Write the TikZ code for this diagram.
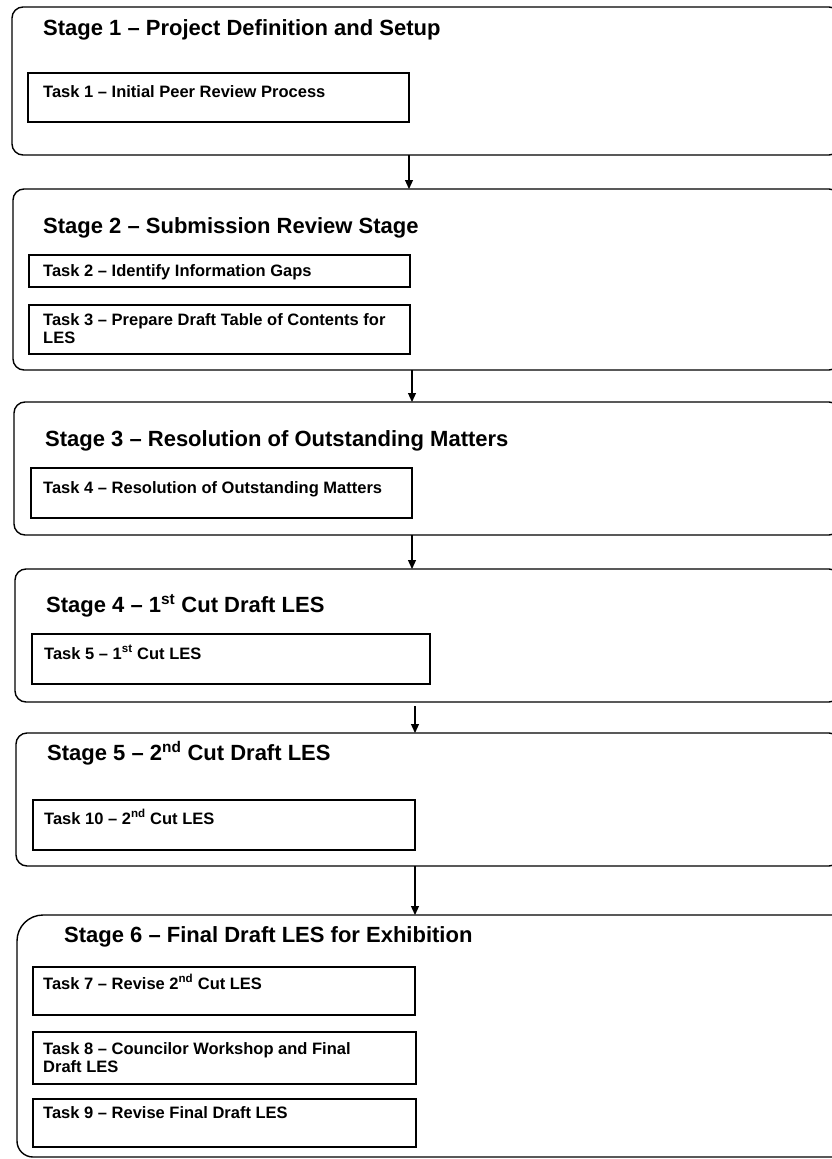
\documentclass[tikz,border=0pt]{standalone}
\usepackage{fontspec}
\setmainfont{Liberation Sans}
\usetikzlibrary{arrows.meta}
\tikzset{
  stagebox/.style={draw=black, line width=1.4pt, rounded corners=11pt, inner sep=0pt, outer sep=0pt, anchor=north west},
  stageline/.style={draw=black, line width=1.4pt},
  taskbox/.style={draw=black, line width=1.2pt, inner sep=0pt, outer sep=0pt, anchor=north west},
  stagetitle/.style={inner sep=0pt, anchor=base west, font=\bfseries\fontsize{22}{25}\selectfont},
  tasktext/.style={inner sep=0pt, anchor=base west, font=\bfseries\fontsize{16.5}{19}\selectfont},
  tasktwo/.style={inner sep=0pt, anchor=north west, align=left, font=\bfseries\fontsize{16.5}{18.5}\selectfont},
  arr/.style={draw=black, line width=1.2pt, -{Triangle[length=9pt,width=8pt]}}
}
\begin{document}
\begin{tikzpicture}[x=1pt,y=-1pt]
\useasboundingbox (0,0) rectangle (832,1159);
% stages
\node[stagebox, minimum width=828pt, minimum height=148pt] (s1) at (12,7) {};
\node[stagebox, minimum width=827pt, minimum height=181pt] (s2) at (13,189) {};
\node[stagebox, minimum width=826pt, minimum height=133pt] (s3) at (14,402) {};
\node[stagebox, minimum width=825pt, minimum height=133pt] (s4) at (15,569) {};
\node[stagebox, minimum width=824pt, minimum height=133pt] (s5) at (16,733) {};
\node[stagebox, draw=none, minimum width=823pt, minimum height=242pt] (s6) at (17,915) {};
\draw[stageline] (s6.south east) [rounded corners=16pt] -- (s6.south west)
  [rounded corners=26pt] -- (s6.north west) [rounded corners=12pt] -- (s6.north east);
% stage titles
\node[stagetitle] (st1) at (43,35) {Stage 1 – Project Definition and Setup};
\node[stagetitle] (st2) at (43,233) {Stage 2 – Submission Review Stage};
\node[stagetitle] (st3) at (45,446) {Stage 3 – Resolution of Outstanding Matters};
\node[stagetitle] (st4) at (46,612) {Stage 4 – 1\textsuperscript{st} Cut Draft LES};
\node[stagetitle] (st5) at (47,760) {Stage 5 – 2\textsuperscript{nd} Cut Draft LES};
\node[stagetitle] (st6) at (64,942) {Stage 6 – Final Draft LES for Exhibition};
% task boxes
\node[taskbox, minimum width=381pt, minimum height=49pt] (t1) at (28,73) {};
\node[taskbox, minimum width=381pt, minimum height=32pt] (t2) at (29,255) {};
\node[taskbox, minimum width=381pt, minimum height=49pt] (t3) at (29,305) {};
\node[taskbox, minimum width=381pt, minimum height=50pt] (t4) at (31,468) {};
\node[taskbox, minimum width=398pt, minimum height=50pt] (t5) at (32,634) {};
\node[taskbox, minimum width=382pt, minimum height=50pt] (t10) at (33,800) {};
\node[taskbox, minimum width=382pt, minimum height=48pt] (t7) at (33,967) {};
\node[taskbox, minimum width=383pt, minimum height=52pt] (t8) at (33,1032) {};
\node[taskbox, minimum width=383pt, minimum height=48pt] (t9) at (33,1099) {};
% task texts
\node[tasktext] (tt1) at (43,97) {Task 1 – Initial Peer Review Process};
\node[tasktext] (tt2) at (43,276) {Task 2 – Identify Information Gaps};
\node[tasktwo] (tt3) at (43,313) {Task 3 – Prepare Draft Table of Contents for\\LES};
\node[tasktext] (tt4) at (43,493) {Task 4 – Resolution of Outstanding Matters};
\node[tasktext] (tt5) at (44,659) {Task 5 – 1\textsuperscript{st} Cut LES};
\node[tasktext] (tt10) at (44,824) {Task 10 – 2\textsuperscript{nd} Cut LES};
\node[tasktext] (tt7) at (43,989) {Task 7 – Revise 2\textsuperscript{nd} Cut LES};
\node[tasktwo] (tt8) at (43,1042) {Task 8 – Councilor Workshop and Final\\Draft LES};
\node[tasktext] (tt9) at (43,1118) {Task 9 – Revise Final Draft LES};
% arrow columns
\coordinate (a1) at (409,0);
\coordinate (a2) at (412,0);
\coordinate (a3) at (412,0);
\coordinate (a4) at (415,0);
\coordinate (a5) at (415,0);
\draw[arr] (s1.south -| a1) -- (s2.north -| a1);
\draw[arr] (s2.south -| a2) -- (s3.north -| a2);
\draw[arr] (s3.south -| a3) -- (s4.north -| a3);
\draw[arr] ([yshift=-4pt]s4.south -| a4) -- (s5.north -| a4);
\draw[arr] (s5.south -| a5) -- (s6.north -| a5);
\end{tikzpicture}
\end{document}
